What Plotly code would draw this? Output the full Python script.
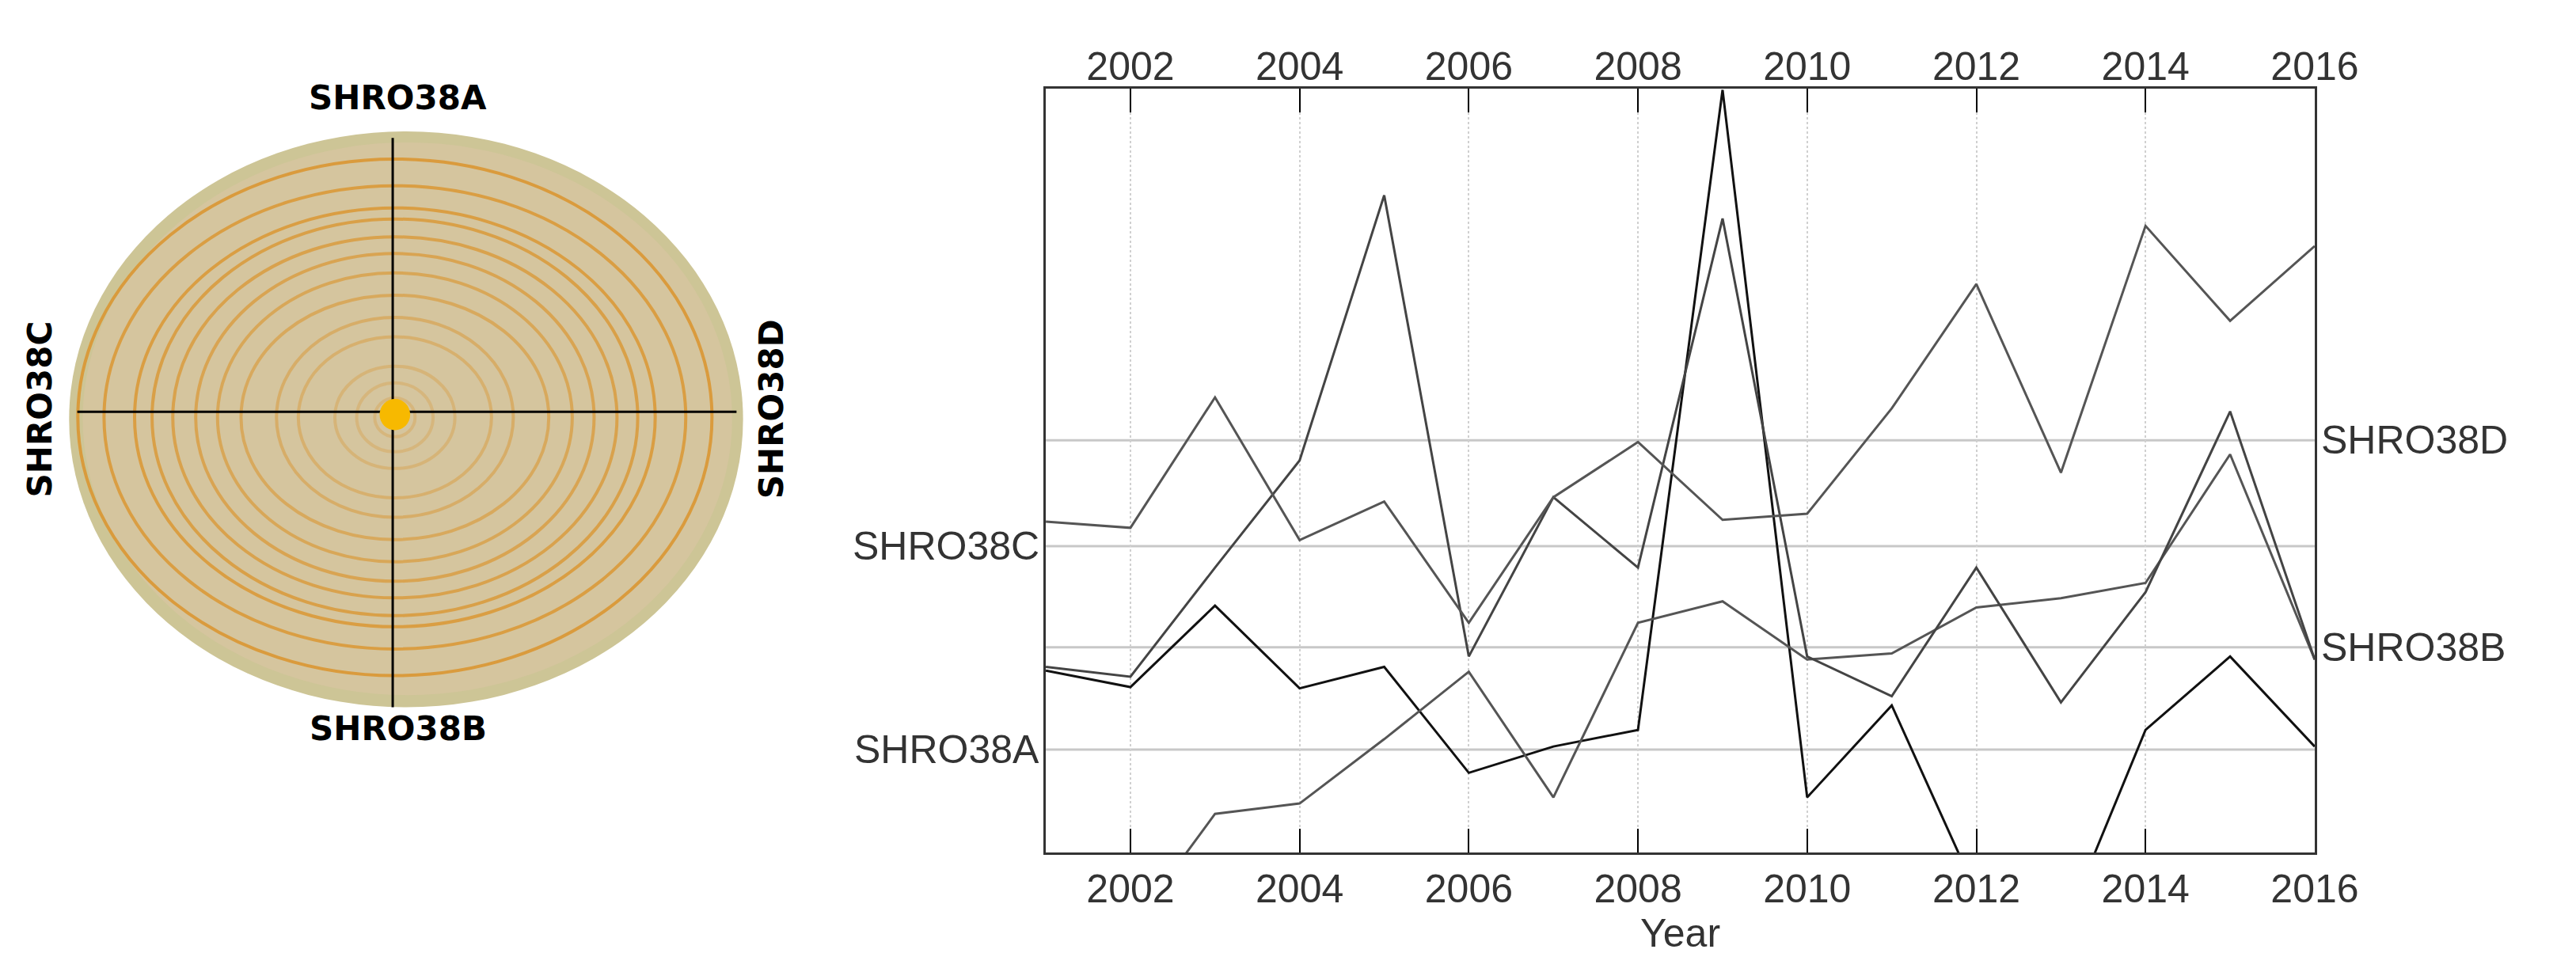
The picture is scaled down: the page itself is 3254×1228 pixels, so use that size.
import plotly.graph_objects as go

# years and ring-width series (arbitrary plot units)
years = list(range(2001, 2017))
shro38a = [29.7, 27.0, 40.3, 26.8, 30.3, 13.0, 17.3, 20.0, 124.5, 9.0, 24.0, -6.5, -13.5, 20.0, 32.0, 17.3]
shro38b = [-18.5, -12.5, 6.3, 8.0, 18.5, 29.5, 9.0, 37.5, 41.0, 31.5, 32.5, 40.0, 41.5, 44.0, 65.0, 31.5]
shro38c = [30.3, 28.7, 46.5, 64.0, 107.3, 32.0, 58.0, 46.5, 103.5, 32.0, 25.5, 46.5, 24.5, 42.5, 72.0, 31.5]
shro38d = [54.0, 53.0, 74.3, 51.0, 57.3, 37.5, 58.0, 67.0, 54.3, 55.3, 72.5, 92.8, 62.0, 102.3, 86.8, 99.0]
series_names = ["SHRO38A", "SHRO38B", "SHRO38C", "SHRO38D"]
series_colors = ["#111111", "#555555", "#444444", "#555555"]
mean_levels = [16.8, 33.5, 50.0, 67.3]
label_sides = ["left", "right", "left", "right"]
tick_years = list(range(2002, 2017, 2))

# disc: ring radii (x, y) in disc units and their strength
ring_rx = [581, 533, 477, 445, 407, 365, 325, 282, 217, 177, 110, 70, 37]
ring_ry = [465, 417, 377, 357, 325, 295, 260, 220, 180, 145, 92, 62, 35]
ring_alpha = [0.9, 0.85, 0.85, 0.8, 0.75, 0.7, 0.65, 0.6, 0.5, 0.45, 0.35, 0.3, 0.3]

fig = go.Figure()

for vals, name, col in zip([shro38a, shro38b, shro38c, shro38d], series_names, series_colors):
    fig.add_trace(go.Scatter(x=years, y=vals, mode="lines", name=name,
                             line=dict(color=col, width=3), showlegend=False))

# dummy trace so the top axis renders
fig.add_trace(go.Scatter(x=[2001, 2016], y=[0, 0], xaxis="x3", mode="lines",
                         line=dict(width=0), hoverinfo="skip", showlegend=False))

for lvl, name, side in zip(mean_levels, series_names, label_sides):
    fig.add_hline(y=lvl, line=dict(color="#c8c8c8", width=3), layer="below")
    fig.add_annotation(x=2001 if side == "left" else 2016, y=lvl, xref="x", yref="y",
                       text=name, showarrow=False,
                       xanchor="right" if side == "left" else "left", xshift=-6 if side == "left" else 6,
                       font=dict(family="Liberation Sans Narrow, Arial", size=50, color="#333333"))

# disc drawn on its own isotropic axis
cx, cy = 712, 740
fig.add_shape(type="circle", xref="x2", yref="y2", x0=115, x1=1350, y0=225, y1=1262,
              fillcolor="#cdc596", line=dict(width=0), layer="below")
fig.add_shape(type="circle", xref="x2", yref="y2", x0=140, x1=1330, y0=245, y1=1240,
              fillcolor="#d5c59e", line=dict(width=0), layer="below")
for rx, ry, a in zip(ring_rx, ring_ry, ring_alpha):
    fig.add_shape(type="circle", xref="x2", yref="y2", x0=cx - rx, x1=cx + rx, y0=cy - ry, y1=cy + ry,
                  line=dict(color=f"rgba(218,150,50,{a})", width=4))
fig.add_shape(type="line", xref="x2", yref="y2", x0=130, x1=1338, y0=730, y1=730, line=dict(color="black", width=3))
fig.add_shape(type="line", xref="x2", yref="y2", x0=708, x1=708, y0=237, y1=1262, line=dict(color="black", width=3))
fig.add_shape(type="circle", xref="x2", yref="y2", x0=684, x1=740, y0=707, y1=763,
              fillcolor="#f7b900", line=dict(width=0))

disc_font = dict(family="DejaVu Sans", size=42, color="black")
for txt, x, y, ang in [("<b>SHRO38A</b>", 718, 165, 0), ("<b>SHRO38B</b>", 718, 1300, 0),
                       ("<b>SHRO38C</b>", 62, 725, -90), ("<b>SHRO38D</b>", 1402, 725, -90)]:
    fig.add_annotation(x=x, y=y, xref="x2", yref="y2", text=txt, showarrow=False,
                       textangle=ang, font=disc_font)

tick_font = dict(family="Liberation Sans Narrow, Arial", size=50, color="#333333")
fig.update_layout(
    width=3254, height=1228, margin=dict(l=0, r=0, t=0, b=0),
    plot_bgcolor="white", paper_bgcolor="white",
    xaxis=dict(domain=[0.4106, 0.9118], range=[2001, 2016], tickvals=tick_years,
               ticks="inside", ticklen=30, tickwidth=2, tickcolor="black",
               showgrid=True, gridcolor="#d0d0d0", griddash="dot", gridwidth=2,
               showline=True, linecolor="#333333", linewidth=3, mirror=True,
               tickfont=tick_font, zeroline=False,
               title=dict(text="Year", font=dict(family="Liberation Sans Narrow, Arial", size=50, color="#333333"),
                          standoff=10)),
    xaxis3=dict(overlaying="x", side="top", matches="x", range=[2001, 2016], tickvals=tick_years,
                ticks="inside", ticklen=30, tickwidth=2, tickcolor="black", showgrid=False,
                tickfont=tick_font, zeroline=False, anchor="y"),
    yaxis=dict(domain=[0.1295, 0.9153], range=[0, 124.7], showticklabels=False,
               showgrid=False, zeroline=False, ticks="",
               showline=True, linecolor="#333333", linewidth=3, mirror=True),
    xaxis2=dict(domain=[0, 0.338], range=[0, 1568], visible=False),
    yaxis2=dict(domain=[0, 1], range=[1750, 0], visible=False, anchor="x2"),
)

fig.write_html("out.html")
